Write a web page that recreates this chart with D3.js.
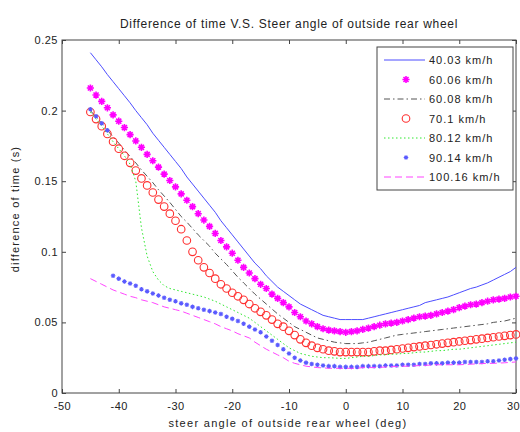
<!DOCTYPE html>
<html>
<head>
<meta charset="utf-8">
<script src="https://cdn.jsdelivr.net/npm/d3@7"></script>
<style>
body { margin: 0; background: #fff; }
text { font-family: "Liberation Sans", Arial, sans-serif; fill: #222; }
</style>
</head>
<body>
<script>
// steer angle of outside rear wheel (deg)
const angle = [-45,-44,-43,-42,-41,-40,-39,-38,-37,-36,
  -35,-34,-33,-32,-31,-30,-29,-28,-27,-26,
  -25,-24,-23,-22,-21,-20,-19,-18,-17,-16,
  -15,-14,-13,-12,-11,-10,-9,-8,-7,-6,
  -5,-4,-3,-2,-1,0,1,2,3,4,
  5,6,7,8,9,10,11,12,13,14,
  15,16,17,18,19,20,21,22,23,24,
  25,26,27,28,29,30];

// difference of time (s), one array per speed
const t4003 = [.241,.236,.231,.2255,.2205,.2155,.2105,.2055,.200,.195,
  .190,.184,.179,.174,.169,.164,.159,.153,.148,.143,
  .138,.133,.128,.122,.117,.112,.107,.102,.097,.092,
  .088,.083,.079,.075,.072,.069,.066,.063,.061,.059,
  .057,.055,.054,.053,.052,.052,.052,.052,.052,.053,
  .054,.055,.056,.057,.058,.059,.060,.061,.062,.064,
  .065,.066,.067,.068,.0695,.071,.0725,.074,.075,.0765,
  .078,.080,.082,.084,.086,.089];
const t6006 = [.216,.211,.2065,.202,.197,.1925,.188,.183,.1785,.174,
  .169,.1645,.160,.155,.1505,.146,.141,.1365,.132,.127,
  .1225,.118,.113,.108,.1035,.099,.094,.089,.085,.081,
  .077,.074,.070,.067,.064,.061,.057,.054,.051,.049,
  .047,.0455,.0445,.044,.0435,.043,.0435,.044,.045,.046,
  .047,.048,.049,.0495,.050,.051,.052,.053,.054,.0545,
  .055,.056,.057,.058,.059,.0605,.0615,.0625,.063,.064,
  .065,.066,.0665,.067,.068,.0685];
const t6008 = [.200,.1955,.191,.186,.1815,.177,.172,.1675,.163,.158,
  .1535,.149,.144,.1395,.135,.130,.125,.121,.1165,.112,
  .108,.104,.099,.095,.091,.0865,.082,.078,.074,.070,
  .0665,.063,.0595,.056,.053,.050,.047,.045,.043,.041,
  .039,.038,.037,.036,.0355,.035,.035,.035,.0355,.036,
  .037,.038,.039,.040,.041,.0415,.042,.0425,.043,.0435,
  .044,.0445,.045,.0455,.046,.0465,.047,.0475,.048,.0485,
  .049,.050,.0505,.051,.052,.053];
const t701 = [.199,.194,.189,.1835,.178,.173,.168,.163,.1575,.152,
  .147,.142,.137,.132,.127,.122,.116,.108,.100,.094,
  .089,.085,.081,.077,.074,.071,.0685,.066,.063,.060,
  .0575,.055,.052,.049,.047,.044,.041,.038,.0355,.0335,
  .032,.031,.030,.0295,.029,.029,.029,.029,.029,.029,
  .0295,.030,.030,.0305,.031,.0315,.032,.0325,.033,.0335,
  .034,.0345,.035,.0355,.036,.0365,.037,.0375,.038,.0385,
  .039,.0395,.040,.0405,.041,.0415];
const t8012 = [.199,.194,.189,.1835,.178,.173,.168,.162,.150,.117,
  .097,.086,.080,.076,.074,.073,.072,.071,.070,.069,
  .068,.0665,.065,.063,.061,.059,.057,.055,.053,.050,
  .047,.044,.041,.038,.035,.032,.030,.028,.027,.026,
  .0255,.025,.025,.0248,.0245,.0245,.025,.0255,.026,.026,
  .0265,.027,.027,.0275,.0275,.028,.028,.0285,.029,.029,
  .0295,.030,.030,.0305,.031,.031,.0315,.032,.0325,.033,
  .0335,.034,.0345,.035,.0355,.036];
const t9014 = [.201,.196,.191,.186,.083,.081,.079,.0775,.076,.0735,
  .072,.0705,.069,.0675,.066,.065,.0635,.0625,.061,.060,
  .059,.058,.057,.056,.054,.0525,.051,.049,.047,.045,
  .043,.040,.037,.034,.031,.028,.025,.023,.0215,.0205,
  .020,.0195,.019,.019,.0185,.0185,.0185,.0185,.019,.019,
  .019,.019,.0195,.0195,.0195,.020,.020,.020,.0205,.0205,
  .021,.021,.021,.0215,.0215,.0215,.022,.022,.022,.022,
  .0225,.0225,.023,.0235,.024,.0245];
const t10016 = [.081,.079,.077,.075,.073,.0715,.070,.0685,.0675,.066,
  .065,.064,.0625,.061,.060,.059,.058,.0565,.055,.0535,
  .052,.0505,.049,.047,.0455,.044,.042,.0405,.039,.036,
  .0335,.031,.029,.027,.025,.0225,.021,.020,.019,.0185,
  .018,.0178,.0175,.0175,.0175,.0175,.0175,.0175,.018,.018,
  .018,.0182,.0184,.0186,.0188,.019,.019,.0192,.0194,.0196,
  .0198,.020,.020,.020,.020,.020,.0202,.0204,.0206,.0208,
  .021,.021,.0212,.0214,.0217,.022];

const speedLabels = ["40.03 km/h", "60.06 km/h", "60.08 km/h", "70.1 km/h",
  "80.12 km/h", "90.14 km/h", "100.16 km/h"];
const xTicks = [-50, -40, -30, -20, -10, 0, 10, 20, 30];
const yTicks = [0, 0.05, 0.1, 0.15, 0.2, 0.25];

let svgWidth = 520;
let svgHeight = 432;
let margin = { top: 40, right: 4, bottom: 39, left: 62 };
let chartWidth = svgWidth - margin.left - margin.right;
let chartHeight = svgHeight - margin.top - margin.bottom;

let svg = d3.select("body").append("svg")
    .attr("width", svgWidth)
    .attr("height", svgHeight);

let chartGroup = svg.append("g")
    .attr("transform", `translate(${margin.left},${margin.top})`);

let xScale = d3.scaleLinear().domain([-50, 30]).range([0, chartWidth]);
let yScale = d3.scaleLinear().domain([0, 0.25]).range([chartHeight, 0]);

// matlab-ish '*' marker
function asterisk(s) {
    let d = s * 0.7;
    return `M${-s},0H${s}M0,${-s}V${s}M${-d},${-d}L${d},${d}M${-d},${d}L${d},${-d}`;
}

// series styles, in legend order
let series = [
    { y: t4003, type: "line", color: "#4d4dff", dash: null },
    { y: t6006, type: "star", color: "#ff00ff", size: 3.6, width: 1.6 },
    { y: t6008, type: "line", color: "#555", dash: "6,3,1.5,3" },
    { y: t701, type: "circle", color: "#ff3030" },
    { y: t8012, type: "line", color: "#2ee82e", dash: "1.5,2.5" },
    { y: t9014, type: "star", color: "#5a5aff", size: 2.3, width: 1.1 },
    { y: t10016, type: "line", color: "#ff44ff", dash: "7,4" }
];

let tickStyle = g => g.selectAll("text")
    .style("font-size", "11px")
    .style("letter-spacing", "0.5px")
    .attr("fill", "#222");

// axes, ticks pointing inward on all four sides
chartGroup.append("g")
    .attr("transform", `translate(0,${chartHeight})`)
    .call(d3.axisBottom(xScale).tickValues(xTicks).tickSizeInner(-4).tickSizeOuter(0).tickPadding(9).tickFormat(d => d))
    .call(g => g.select(".domain").remove())
    .call(tickStyle)
    .call(g => g.selectAll("text").filter(d => d == 30).attr("dx", -3));
chartGroup.append("g")
    .call(d3.axisTop(xScale).tickValues(xTicks).tickSizeInner(-4).tickSizeOuter(0).tickFormat(""))
    .call(g => g.select(".domain").remove());
chartGroup.append("g")
    .call(d3.axisLeft(yScale).tickValues(yTicks).tickSizeInner(-4).tickSizeOuter(0).tickPadding(4).tickFormat(d => d))
    .call(g => g.select(".domain").remove())
    .call(tickStyle);
chartGroup.append("g")
    .attr("transform", `translate(${chartWidth},0)`)
    .call(d3.axisRight(yScale).tickValues(yTicks).tickSizeInner(-4).tickSizeOuter(0).tickFormat(""))
    .call(g => g.select(".domain").remove());
chartGroup.selectAll(".tick line").attr("stroke", "#444");

chartGroup.append("rect")
    .attr("width", chartWidth)
    .attr("height", chartHeight)
    .attr("fill", "none")
    .attr("stroke", "#444")
    .attr("stroke-width", 1);

let line = d3.line()
    .x((d, i) => xScale(angle[i]))
    .y(d => yScale(d));

series.forEach(function (s) {
    if (s.type == "line") {
        chartGroup.append("path")
            .datum(s.y)
            .attr("d", line)
            .attr("fill", "none")
            .attr("stroke", s.color)
            .attr("stroke-width", 1)
            .attr("stroke-dasharray", s.dash);
    } else if (s.type == "circle") {
        chartGroup.append("g").selectAll("circle")
            .data(s.y)
            .enter()
            .append("circle")
            .attr("cx", (d, i) => xScale(angle[i]))
            .attr("cy", d => yScale(d))
            .attr("r", 3.8)
            .attr("fill", "none")
            .attr("stroke", s.color)
            .attr("stroke-width", 1.1);
    } else {
        chartGroup.append("g").selectAll("path")
            .data(s.y)
            .enter()
            .append("path")
            .attr("transform", (d, i) => `translate(${xScale(angle[i])},${yScale(d)})`)
            .attr("d", asterisk(s.size))
            .attr("fill", "none")
            .attr("stroke", s.color)
            .attr("stroke-width", s.width);
    }
});

// legend
let legend = svg.append("g").attr("transform", "translate(377,47)");
legend.append("rect")
    .attr("width", 136)
    .attr("height", 143)
    .attr("fill", "#fff")
    .attr("stroke", "#444");

speedLabels.forEach(function (label, i) {
    let s = series[i];
    let row = legend.append("g").attr("transform", `translate(0,${13 + i * 19.5})`);
    if (s.type == "line") {
        row.append("line")
            .attr("x1", 7).attr("x2", 48)
            .attr("stroke", s.color)
            .attr("stroke-width", 1)
            .attr("stroke-dasharray", s.dash);
    } else if (s.type == "circle") {
        row.append("circle")
            .attr("cx", 29).attr("r", 3.8)
            .attr("fill", "none")
            .attr("stroke", s.color)
            .attr("stroke-width", 1.1);
    } else {
        row.append("path")
            .attr("transform", "translate(29,0)")
            .attr("d", asterisk(s.size))
            .attr("fill", "none")
            .attr("stroke", s.color)
            .attr("stroke-width", s.width);
    }
    row.append("text")
        .attr("x", 52)
        .attr("y", 4)
        .style("font-size", "11px")
        .style("letter-spacing", "1px")
        .text(label);
});

svg.append("text")
    .attr("x", 289)
    .attr("y", 28)
    .attr("text-anchor", "middle")
    .style("font-size", "12px")
    .style("letter-spacing", "0.7px")
    .text("Difference of time V.S. Steer angle of outside rear wheel");

svg.append("text")
    .attr("x", 288)
    .attr("y", 427)
    .attr("text-anchor", "middle")
    .style("font-size", "11px")
    .style("letter-spacing", "1.3px")
    .text("steer angle of outside rear wheel (deg)");

svg.append("text")
    .attr("transform", "translate(19,209) rotate(-90)")
    .attr("text-anchor", "middle")
    .style("font-size", "11px")
    .style("letter-spacing", "1.2px")
    .text("difference of time (s)");
</script>
</body>
</html>
